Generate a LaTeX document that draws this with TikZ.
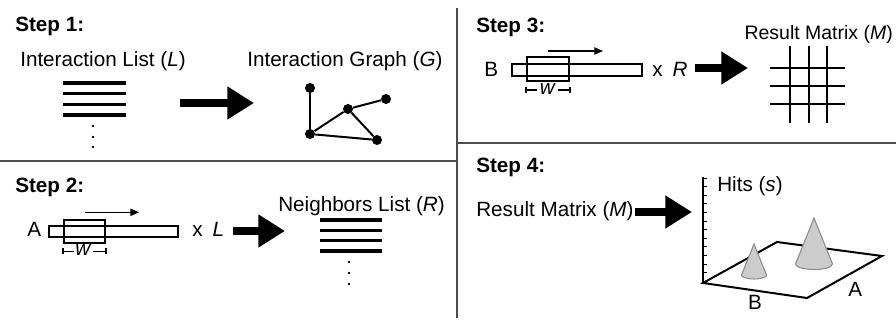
\documentclass[tikz,border=0pt]{standalone}
\usepackage{fontspec}
\setmainfont{Liberation Sans}
\usetikzlibrary{arrows.meta}
\begin{document}
\begin{tikzpicture}[x=0.75pt,y=-0.75pt,
  txt/.style={anchor=base west,inner sep=0pt,font=\fontsize{15.5}{18}\selectfont},
  ctxt/.style={anchor=base,inner sep=0pt,font=\fontsize{15.5}{18}\selectfont},
  hd/.style={anchor=base west,inner sep=0pt,font=\fontsize{15.5}{18}\selectfont\bfseries},
  divider/.style={line width=1.5pt,draw=black!70},
  bigarrow/.style={line width=6pt,-{Triangle[length=20pt,width=23.5pt]}},
  smallarrow/.style={line width=0.9pt,-{Triangle[length=6.5pt,width=5.5pt]}},
  listline/.style={line width=2.3pt},
  ldot/.style={circle,fill=black,inner sep=0pt,minimum size=2.2pt},
  gdot/.style={circle,fill=black,inner sep=0pt,minimum size=7.5pt},
  gedge/.style={line width=1.5pt},
  boxline/.style={line width=0.9pt},
  gridline/.style={line width=1.5pt},
  plane/.style={line width=1.5pt},
  cone/.style={fill=black!20,draw=black!45,line width=0.8pt},
]
\useasboundingbox (0,0) rectangle (896,320);

% dividers
\draw[divider] (457,8) -- (457,318);
\draw[divider] (0,161) -- (457,161);
\draw[divider] (457,143) -- (896,143);

% ---------------- Step 1
\node[hd] (s1) at (15,32) {Step 1:};
\node[txt] (il) at (20,67) {Interaction List (\textit{L})};
\node[txt] (ig) at (247,67) {Interaction Graph (\textit{G})};
\foreach \y in {83,93.7,104.3,115} \draw[listline] (63,\y) -- (126,\y);
\node[ldot] (d1a) at (93,126) {};
\node[ldot] (d1b) at (93,137) {};
\node[ldot] (d1c) at (93,147) {};
\coordinate (a1s) at (180,103);
\coordinate (a1e) at (254,103);
\draw[bigarrow] (a1s) -- (a1e);
\node[gdot] (g1) at (310,88) {};
\node[gdot] (g2) at (348,109) {};
\node[gdot] (g3) at (386,99) {};
\node[gdot] (g4) at (310,134) {};
\node[gdot] (g5) at (377,140) {};
\draw[gedge] (g1) -- (g4);
\draw[gedge] (g4) -- (g2);
\draw[gedge] (g2) -- (g3);
\draw[gedge] (g2) -- (g5);
\draw[gedge] (g4) -- (g5);

% ---------------- Step 2
\node[hd] (s2) at (15,193) {Step 2:};
\node[txt] (nl) at (278,211.5) {Neighbors List (\textit{R})};
\node[txt] (lA) at (27,237) {A};
\draw[boxline] (49,226) rectangle (178,237);
\draw[boxline] (64,220) rectangle (105,243);
\coordinate (sa2s) at (85,212.3);
\coordinate (sa2e) at (139,212.3);
\draw[smallarrow] (sa2s) -- (sa2e);
\node[ctxt] (w2) at (83.5,256) {\textit{w}};
\draw[boxline] (63,248.5) -- (63,254.5) (63,251.5) -- (74,251.5);
\draw[boxline] (106,248.5) -- (106,254.5) (106,251.5) -- (93,251.5);
\node[txt] (xL) at (192,237) {x\hspace{0.48em}\textit{L}};
\coordinate (a2s) at (233,231);
\coordinate (a2e) at (285,231);
\draw[bigarrow] (a2s) -- (a2e);
\foreach \y in {220,230.3,240.6,251} \draw[listline] (320,\y) -- (382,\y);
\node[ldot] (d2a) at (349,262) {};
\node[ldot] (d2b) at (349,273) {};
\node[ldot] (d2c) at (349,284) {};

% ---------------- Step 3
\node[hd] (s3) at (476,33) {Step 3:};
\node[anchor=base east,inner sep=0pt,font=\fontsize{14.6}{17}\selectfont] (rm3) at (893,40) {Result Matrix (\textit{M})};
\node[txt] (lB) at (484,77) {B};
\draw[boxline] (512,64) rectangle (642,76);
\draw[boxline] (527,57) rectangle (569,81);
\coordinate (sa3s) at (548,51);
\coordinate (sa3e) at (603,51);
\draw[smallarrow] (sa3s) -- (sa3e);
\node[ctxt] (w3) at (548,94.3) {\textit{w}};
\draw[boxline] (526,87) -- (526,93) (526,90) -- (537,90);
\draw[boxline] (570,87) -- (570,93) (570,90) -- (558,90);
\node[txt] (xR) at (652,77) {x\hspace{0.48em}\textit{R}};
\coordinate (a3s) at (695,68);
\coordinate (a3e) at (748,68);
\draw[bigarrow] (a3s) -- (a3e);
\foreach \x in {790,808.5,827} \draw[gridline] (\x,46) -- (\x,123);
\foreach \y in {68,86,104} \draw[gridline] (770,\y) -- (845,\y);

% ---------------- Step 4
\node[hd] (s4) at (476,173) {Step 4:};
\node[txt] (rm4) at (476,217) {Result Matrix (\textit{M})};
\coordinate (a4s) at (635,212);
\coordinate (a4e) at (692,212);
\draw[bigarrow] (a4s) -- (a4e);
\node[txt] (hits) at (717,192) {Hits (\textit{s})};
\draw[line width=1.2pt] (703,177) -- (703,283);
\foreach \k in {0,...,11} \draw[line width=0.6pt] (703,178+8.6*\k) -- (706.5,178+8.6*\k);
\draw[plane] (703,283) -- (807,298) -- (882,256) -- (777,242) -- cycle;
% small cone
\draw[cone] (741.5,275) -- (754,244) -- (766.5,275) arc (0:180:12.5 and 4) -- cycle;
% big cone
\draw[cone] (795.5,264) -- (814,218) -- (832.5,264) arc (0:180:18.5 and 5.5) -- cycle;
\node[ctxt] (pB) at (755,310) {B};
\node[txt] (pA) at (848,297) {A};
\end{tikzpicture}
\end{document}
